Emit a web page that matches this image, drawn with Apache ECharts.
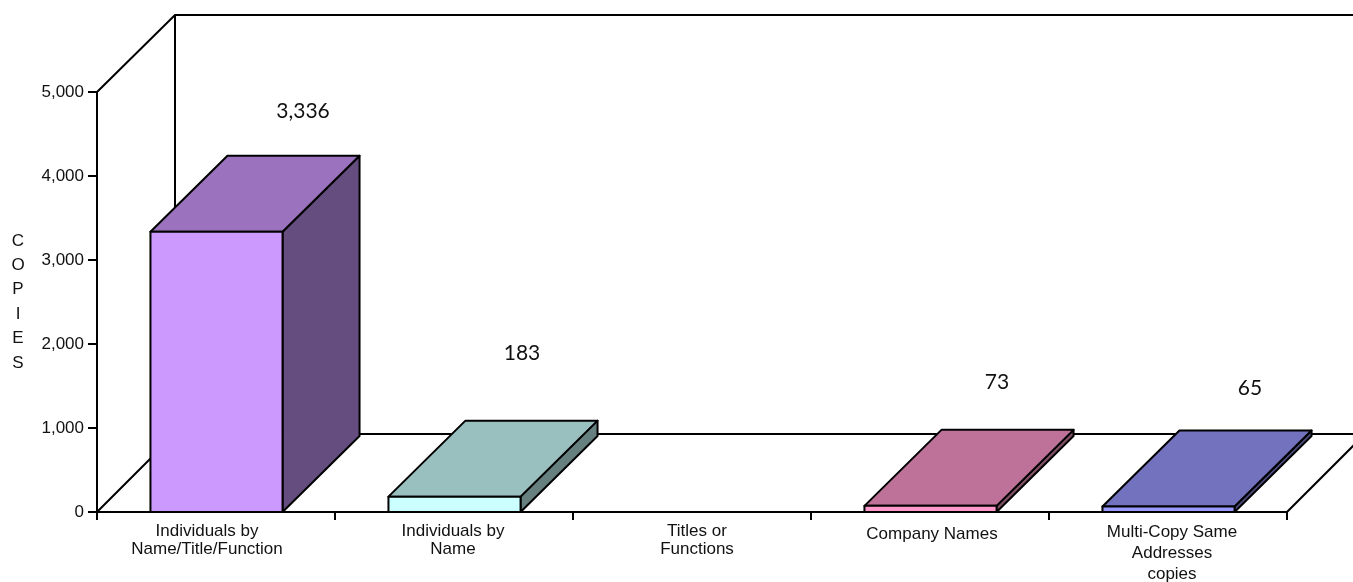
<!DOCTYPE html>
<html>
<head>
<meta charset="utf-8">
<style>html,body{margin:0;padding:0;background:#fff}#chart{width:1353px;height:582px}</style>
<script src="https://cdn.jsdelivr.net/npm/echarts@6/dist/echarts.min.js"></script>
</head>
<body>
<div id="chart"></div>
<script>
const categories = [
  'Individuals by\nName/Title/Function',
  'Individuals by\nName',
  'Titles or\nFunctions',
  'Company Names',
  'Multi-Copy Same\nAddresses\ncopies'
];
const copies = [3336, 183, null, 73, 65];
const frontColors = ['#CC99FF', '#CCFFFF', '#FFFFFF', '#FF99CC', '#9999FF'];
const topColors = ['#9B72BE', '#99BFBF', '#BFBFBF', '#BE7299', '#7272BE'];
const sideColors = ['#654E7F', '#668080', '#808080', '#805066', '#4D4D80'];
// Hand-placed data label nudges relative to the back edge of each bar top
const valueLabelShift = [[10, -45], [-9, -67], [0, 0], [-10, -48], [5, -42]];
// Horizontal and vertical nudges and line spacing of the category labels
const categoryShift = [-9, -1, 5, 2, 4];
const categoryDrop = [0, 0, 0, 3, 0];
const categoryLineHeight = [18.5, 18.5, 18.5, 18, 21];

const DEPTH_X = 78, WALL_DEPTH_Y = 77, FLOOR_DEPTH_Y = 78, BAR_DEPTH_X = 77, BAR_DEPTH_Y = 76;
const BAR_NUDGE = 0.5;
const INK = '#000';
const lineStyle = { stroke: INK, lineWidth: 2, fill: null };

function renderRoom(params, api) {
  const c = params.coordSys;
  const left = c.x, bottom = c.y + c.height, top = c.y, right = c.x + c.width;
  const edge = api.getWidth();
  const seg = (pts) => ({ type: 'polyline', shape: { points: pts }, style: lineStyle, silent: true });
  return {
    type: 'group',
    children: [
      seg([[left, top], [left + DEPTH_X, top - WALL_DEPTH_Y], [edge, top - WALL_DEPTH_Y]]),
      seg([[left + DEPTH_X, top - WALL_DEPTH_Y], [left + DEPTH_X, bottom - FLOOR_DEPTH_Y]]),
      seg([[left, bottom], [left + DEPTH_X, bottom - FLOOR_DEPTH_Y], [edge, bottom - FLOOR_DEPTH_Y]]),
      seg([[right, bottom], [right + DEPTH_X, bottom - FLOOR_DEPTH_Y]])
    ]
  };
}

function renderBar(params, api) {
  const v = api.value(1);
  if (v == null || isNaN(v)) return null;
  const i = params.dataIndex;
  const base = api.coord([i, 0]);
  const head = api.coord([i, v]);
  const w = api.size([1, 0])[0] * 0.555;
  const x0 = base[0] + BAR_NUDGE - w / 2, x1 = base[0] + BAR_NUDGE + w / 2;
  const yB = base[1], yT = head[1];
  const dx = BAR_DEPTH_X, dy = BAR_DEPTH_Y;
  const poly = (pts, fill) => ({
    type: 'polygon', shape: { points: pts },
    style: { fill: fill, stroke: INK, lineWidth: 2, lineJoin: 'round' }
  });
  const shift = valueLabelShift[i];
  return {
    type: 'group',
    children: [
      poly([[x1, yB], [x1 + dx, yB - dy], [x1 + dx, yT - dy], [x1, yT]], sideColors[i]),
      poly([[x0, yT], [x0 + dx, yT - dy], [x1 + dx, yT - dy], [x1, yT]], topColors[i]),
      poly([[x0, yB], [x1, yB], [x1, yT], [x0, yT]], frontColors[i]),
      {
        type: 'text',
        style: {
          text: echarts.format.addCommas(v),
          x: base[0] + dx + shift[0],
          y: yT - dy + shift[1],
          align: 'center', verticalAlign: 'middle',
          font: '21px Lato, "Open Sans", sans-serif',
          fill: '#111'
        }
      }
    ]
  };
}

const chart = echarts.init(document.getElementById('chart'), null, { renderer: 'canvas' });
chart.setOption({
  animation: false,
  backgroundColor: '#fff',
  grid: { left: 97, right: 66, top: 92, bottom: 70, outerBoundsMode: 'none' },
  xAxis: {
    type: 'category',
    data: categories.map((name, i) => ({
      value: name,
      textStyle: {
        lineHeight: categoryLineHeight[i],
        padding: [
          categoryDrop[i],
          categoryShift[i] < 0 ? -2 * categoryShift[i] : 0,
          0,
          categoryShift[i] > 0 ? 2 * categoryShift[i] : 0
        ]
      }
    })),
    axisLine: { show: true, lineStyle: { color: INK, width: 2 } },
    axisTick: { show: true, length: 8, alignWithLabel: false, lineStyle: { color: INK, width: 2 } },
    axisLabel: {
      interval: 0, margin: 10, hideOverlap: false,
      fontFamily: '"Liberation Sans", sans-serif', fontSize: 17, color: '#111'
    },
    splitLine: { show: false }
  },
  yAxis: {
    type: 'value', min: 0, max: 5000, interval: 1000,
    name: 'C\nO\nP\nI\nE\nS',
    nameLocation: 'middle', nameRotate: 0, nameGap: 79,
    nameTextStyle: {
      fontFamily: '"Liberation Sans", sans-serif', fontSize: 17, color: '#111',
      align: 'center', lineHeight: 24.4, padding: [0, 0, 10, 0]
    },
    axisLine: { show: true, lineStyle: { color: INK, width: 2 } },
    axisTick: { show: true, length: 9, lineStyle: { color: INK, width: 2 } },
    axisLabel: {
      margin: 13, fontFamily: '"Liberation Sans", sans-serif', fontSize: 17, color: '#111',
      formatter: (v) => echarts.format.addCommas(v)
    },
    splitLine: { show: false }
  },
  series: [
    { type: 'custom', name: 'room', coordinateSystem: 'cartesian2d', data: [[0, 0]], renderItem: renderRoom, z: 1, silent: true, clip: false, encode: { x: 0, y: 1 } },
    {
      type: 'custom', name: 'copies', coordinateSystem: 'cartesian2d',
      data: copies.map((v, i) => [i, v]),
      renderItem: renderBar, z: 3, clip: false, encode: { x: 0, y: 1 }
    }
  ]
});
</script>
</body>
</html>
